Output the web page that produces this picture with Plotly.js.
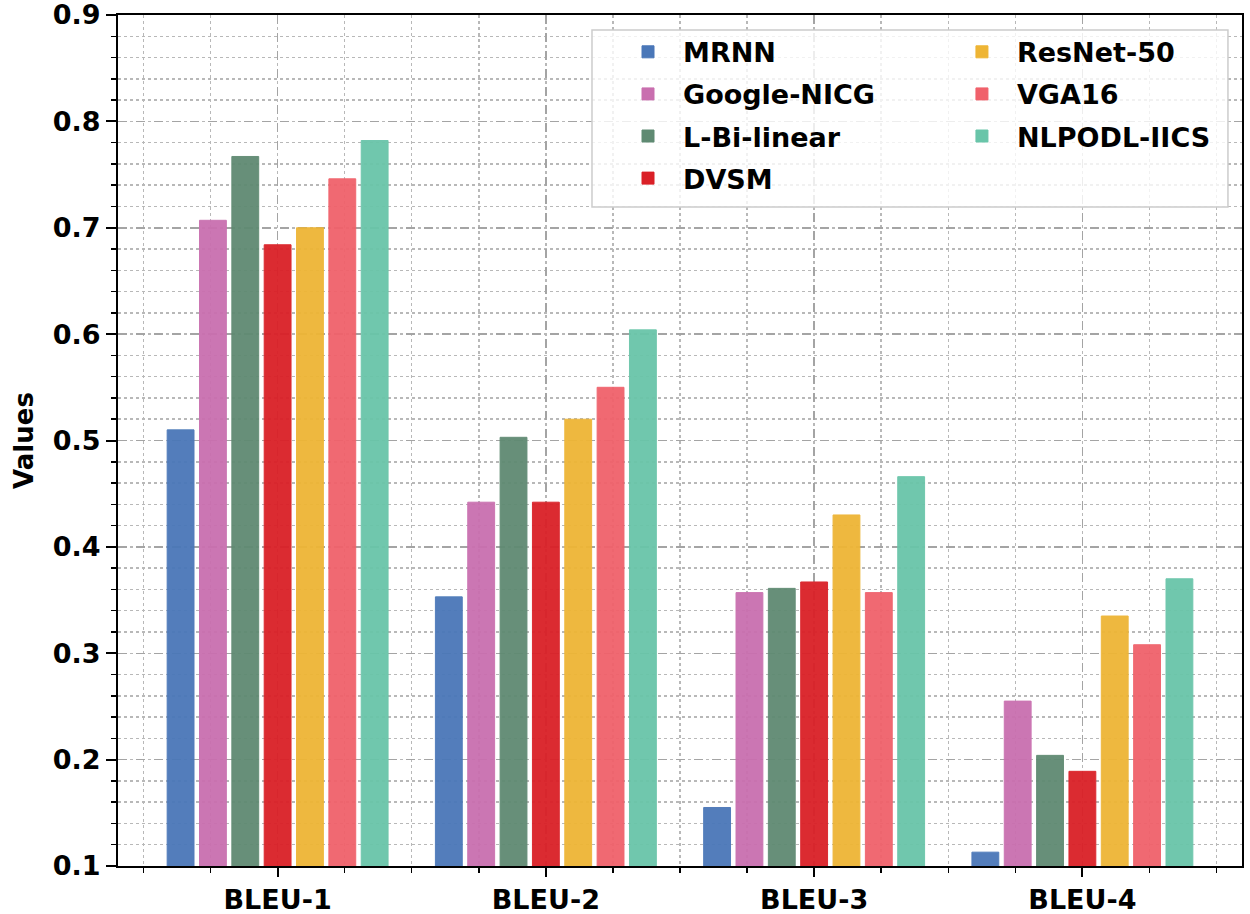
<!DOCTYPE html>
<html>
<head>
<meta charset="utf-8">
<script src="https://cdn.plot.ly/plotly-3.0.1.min.js"></script>
<style>
  html, body { margin: 0; padding: 0; background: #ffffff; }
  #chart { width: 1250px; height: 914px; }
</style>
</head>
<body>
<div id="chart"></div>
<script>
const categories = ['BLEU-1', 'BLEU-2', 'BLEU-3', 'BLEU-4'];

const MRNN        = [0.510, 0.353, 0.155, 0.113];
const GoogleNICG  = [0.707, 0.442, 0.357, 0.255];
const LBiLinear   = [0.767, 0.503, 0.361, 0.204];
const DVSM        = [0.684, 0.442, 0.367, 0.189];
const ResNet50    = [0.700, 0.520, 0.430, 0.335];
const VGA16       = [0.746, 0.550, 0.357, 0.308];
const NLPODLIICS  = [0.782, 0.604, 0.466, 0.370];

const yTickVals   = [0.1, 0.2, 0.3, 0.4, 0.5, 0.6, 0.7, 0.8, 0.9];
const yTickText   = ['0.1', '0.2', '0.3', '0.4', '0.5', '0.6', '0.7', '0.8', '0.9'];

const seriesNames  = ['MRNN', 'Google-NICG', 'L-Bi-linear', 'DVSM', 'ResNet-50', 'VGA16', 'NLPODL-IICS'];
const seriesValues = [MRNN, GoogleNICG, LBiLinear, DVSM, ResNet50, VGA16, NLPODLIICS];
const seriesColors = ['#4a77b8', '#c96faf', '#5f8a72', '#da2027', '#eeb535', '#f0616b', '#69c5a9'];
const seriesLegend = ['legend', 'legend', 'legend', 'legend', 'legend2', 'legend2', 'legend2'];

const xIdx = categories.map((c, i) => i);
const FONT = 'DejaVu Sans, Verdana, sans-serif';

const traces = seriesNames.map((name, k) => ({
  type: 'bar',
  name: name,
  x: xIdx,
  y: seriesValues[k],
  legend: seriesLegend[k],
  legendgroup: name,
  marker: { color: seriesColors[k], opacity: 0.95, line: { color: seriesColors[k], width: 1 } },
  hoverinfo: 'x+y+name'
}));

const legendCommon = {
  bgcolor: 'rgba(0,0,0,0)',
  borderwidth: 0,
  font: { family: FONT, size: 27, color: '#000000', weight: 'bold' },
  traceorder: 'grouped',
  tracegroupgap: 4,
  itemwidth: 60,
  xanchor: 'left',
  yanchor: 'top',
  itemclick: false,
  itemdoubleclick: false
};

const layout = {
  width: 1250,
  height: 914,
  margin: { l: 118, r: 8, t: 15, b: 48 },
  paper_bgcolor: '#ffffff',
  plot_bgcolor: '#ffffff',
  font: { family: FONT, size: 27, color: '#000000', weight: 'bold' },
  barmode: 'group',
  bargap: 0.156,
  bargroupgap: 0.17,
  showlegend: true,
  legend: Object.assign({}, legendCommon, { x: 0.4404, y: 0.985 }),
  legend2: Object.assign({}, legendCommon, { x: 0.7375, y: 0.985 }),
  xaxis: {
    type: 'linear',
    range: [-0.595, 3.595],
    tickmode: 'array',
    tickvals: xIdx,
    ticktext: categories,
    ticks: 'outside',
    ticklen: 9,
    tickwidth: 2,
    tickcolor: '#000000',
    tickfont: { family: FONT, size: 27, color: '#000000', weight: 'bold' },
    showline: true,
    linecolor: '#000000',
    linewidth: 2,
    mirror: true,
    showgrid: true,
    gridcolor: '#a4a4a4',
    gridwidth: 1.5,
    griddash: 'dash',
    zeroline: false,
    minor: {
      tickmode: 'linear',
      tick0: 0,
      dtick: 0.25,
      ticks: 'outside',
      ticklen: 5,
      tickwidth: 1.5,
      tickcolor: '#000000',
      showgrid: true,
      gridcolor: '#b8b8b8',
      gridwidth: 1.5,
      griddash: 'dot'
    }
  },
  yaxis: {
    range: [0.1, 0.9],
    tickmode: 'array',
    tickvals: yTickVals,
    ticktext: yTickText,
    ticklabeloverflow: 'allow',
    ticks: 'outside',
    ticklen: 10,
    tickwidth: 2,
    tickcolor: '#000000',
    tickfont: { family: FONT, size: 27, color: '#000000', weight: 'bold' },
    showline: true,
    linecolor: '#000000',
    linewidth: 2,
    mirror: true,
    showgrid: true,
    gridcolor: '#a4a4a4',
    gridwidth: 1.5,
    griddash: 'dash',
    zeroline: false,
    title: { text: 'Values', font: { family: FONT, size: 26, color: '#000000', weight: 'bold' }, standoff: 12 },
    minor: {
      tickmode: 'linear',
      tick0: 0.1,
      dtick: 0.02,
      ticks: 'outside',
      ticklen: 5,
      tickwidth: 1.5,
      tickcolor: '#000000',
      showgrid: true,
      gridcolor: '#b8b8b8',
      gridwidth: 1.5,
      griddash: 'dot'
    }
  },
  shapes: [{
    type: 'rect',
    xref: 'paper', yref: 'paper',
    x0: 0.4217, x1: 0.9875, y0: 0.7744, y1: 0.9824,
    layer: 'above',
    fillcolor: 'rgba(255,255,255,0.8)',
    line: { color: '#cccccc', width: 1.5 }
  }]
};

Plotly.newPlot('chart', traces, layout, { staticPlot: true, displayModeBar: false });
</script>
</body>
</html>
